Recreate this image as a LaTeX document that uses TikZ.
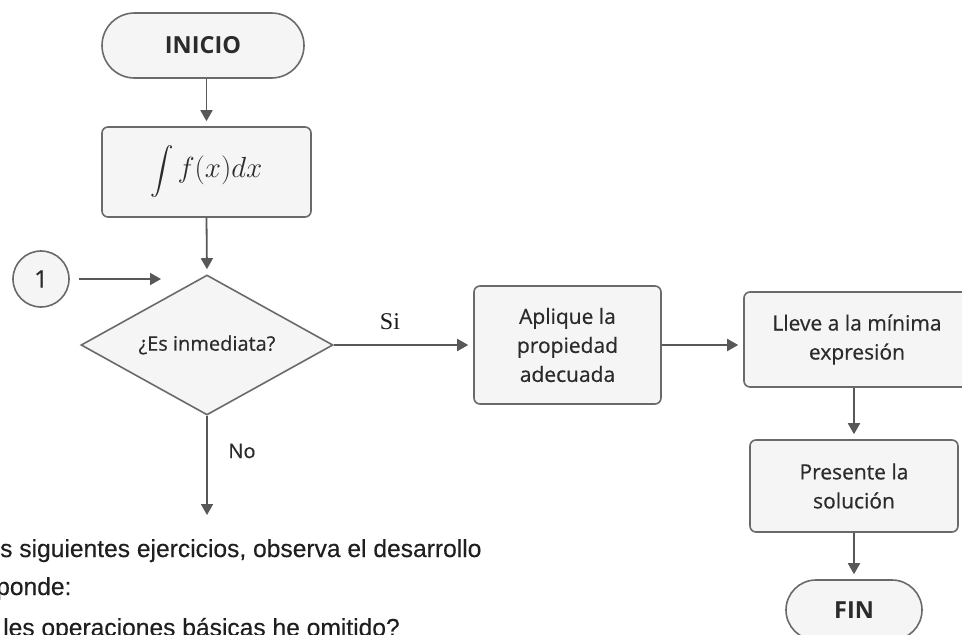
\documentclass[tikz,border=0pt]{standalone}
\usepackage{amsmath}
\usepackage{fontspec}
\setmainfont{Open Sans}
\newfontfamily\boxfont[FakeBold=0.5]{Open Sans}
\newfontfamily\bodyfont[FakeBold=0.3]{Liberation Sans}
\newfontfamily\sifont{Liberation Serif}
\usetikzlibrary{shapes.geometric,shapes.misc,arrows.meta}
\definecolor{boxfill}{HTML}{F5F5F5}
\definecolor{boxline}{HTML}{6A6A6A}
\definecolor{arrowc}{HTML}{585858}
\definecolor{txt}{HTML}{2B2B2B}
\begin{document}
\begin{tikzpicture}[x=1pt,y=-1pt,
  base/.style={draw=boxline, fill=boxfill, line width=1.6pt, text=txt,
    font=\boxfont\fontsize{21}{29}\selectfont, align=center, inner sep=0pt},
  procbox/.style={base, rounded corners=6pt},
  term/.style={base, rounded rectangle, font=\fontsize{23.5}{28}\selectfont\bfseries},
  flow/.style={draw=arrowc, line width=1.8pt, -{Triangle[width=12pt,length=11pt]}, shorten >=5pt},
  lbl/.style={text=txt, font=\boxfont\fontsize{20}{24}\selectfont},
  bottomtext/.style={anchor=base west, inner sep=0pt, text=black!88,
    font=\bodyfont\fontsize{24.6}{38}\selectfont}
]
\useasboundingbox (0,0) rectangle (962,635);
\fill[white] (0,0) rectangle (962,635);

\node[term, minimum width=202pt, minimum height=65pt] (inicio) at (203,45.5) {INICIO};
\node[procbox, minimum width=209pt, minimum height=90pt] (integral) at (206.5,172)
  {\fontsize{20.74}{25}\selectfont\scalebox{1.13}{$\displaystyle\int$}\,\scalebox{1.4}{$f(x)dx$}};
\node[base, circle, minimum size=56pt, font=\boxfont\fontsize{24}{28}\selectfont] (uno) at (41,279) {1};
\node[base, diamond, aspect=1.8, minimum width=252pt, minimum height=140pt,
  font=\boxfont\fontsize{20}{24}\selectfont] (dec) at (207,345) {¿Es inmediata?};
\node[procbox, minimum width=187pt, minimum height=118pt] (aplique) at (567.5,345)
  {Aplique la\\propiedad\\adecuada};
\node[procbox, minimum width=226pt, minimum height=95pt] (lleve) at (857,339.5)
  {Lleve a la mínima\\expresión};
\node[procbox, minimum width=208pt, minimum height=92pt] (presente) at (854,486)
  {Presente la\\solución};
\node[term, minimum width=136pt, minimum height=60pt] (fin) at (854,610) {FIN};

\coordinate (entry) at (161,279);
\coordinate (noend) at (207,515);

\draw[flow] (integral.north |- inicio.south) -- (integral.north);
\draw[flow] (integral.south) -- (dec.north);
\draw[flow, shorten <=9pt, shorten >=0pt] (uno.east) -- (entry);
\draw[flow] (dec.east) -- (aplique.west |- dec.east);
\draw[flow] (aplique.east) -- (aplique.east -| lleve.west);
\draw[flow] (presente.north |- lleve.south) -- (presente.north);
\draw[flow] (presente.south) -- (fin.north);
\draw[flow, shorten >=0pt] (dec.south) -- (noend);

\node[font=\sifont\fontsize{24}{28}\selectfont, text=black!90] (si) at (390,322) {Si};
\node[lbl] (no) at (242,451) {No};

\node[bottomtext] (t1) at (0,557) {s siguientes ejercicios, observa el desarrollo};
\node[bottomtext] (t2) at (-4,595) {ponde:};
\node[bottomtext] (t3) at (3,636) {les operaciones básicas he omitido?};
\end{tikzpicture}
\end{document}
